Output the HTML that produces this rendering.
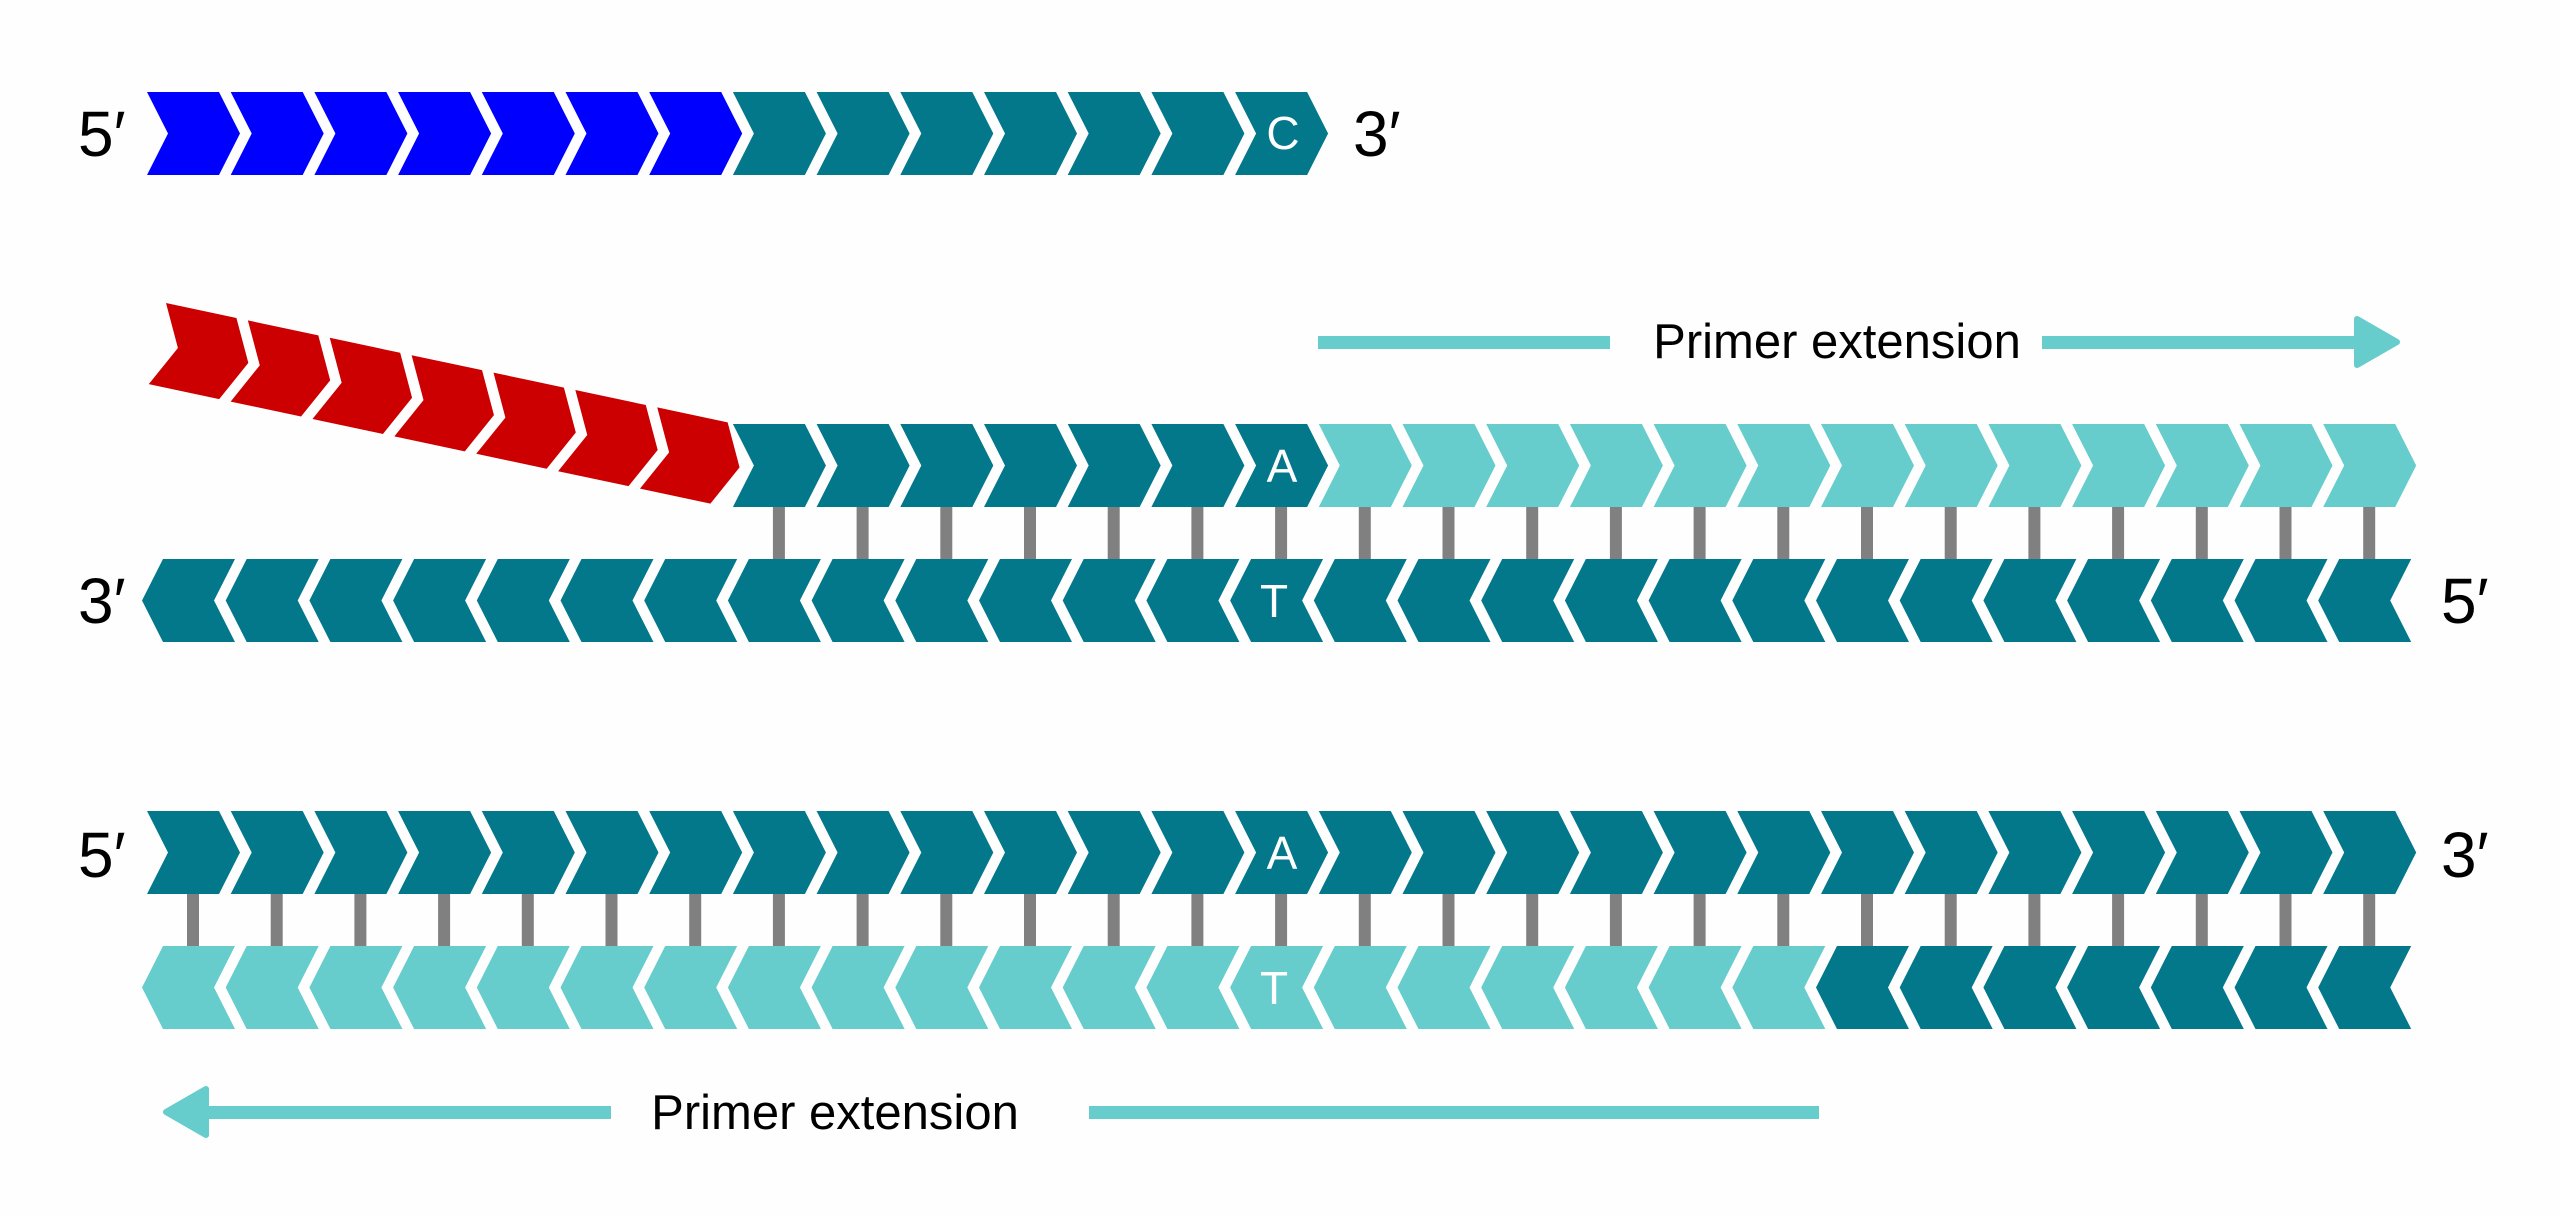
<!DOCTYPE html>
<html><head><meta charset="utf-8"><style>
html,body{margin:0;padding:0;background:#fefefe;}
svg{display:block;}
text{font-family:"Liberation Sans",sans-serif;}
</style></head><body>
<svg width="2560" height="1215" viewBox="0 0 2560 1215" xmlns="http://www.w3.org/2000/svg">
<defs>
<polygon id="R" points="0,0 72,0 93,41.5 72,83 0,83 21,41.5"/>
<polygon id="L" points="21,0 93,0 72,41.5 93,83 21,83 0,41.5"/>
<rect id="B" width="12" height="53"/>
</defs>
<rect width="2560" height="1215" fill="#fefefe"/>

<!-- Row 1 -->
<g fill="#0000ff">
<use href="#R" x="147" y="92"/><use href="#R" x="230.7" y="92"/><use href="#R" x="314.4" y="92"/><use href="#R" x="398.1" y="92"/><use href="#R" x="481.8" y="92"/><use href="#R" x="565.5" y="92"/><use href="#R" x="649.2" y="92"/>
</g>
<g fill="#02788a">
<use href="#R" x="732.9" y="92"/><use href="#R" x="816.6" y="92"/><use href="#R" x="900.3" y="92"/><use href="#R" x="984" y="92"/><use href="#R" x="1067.7" y="92"/><use href="#R" x="1151.4" y="92"/><use href="#R" x="1235.1" y="92"/>
</g>
<text x="1283" y="149" font-size="46" fill="#fff" text-anchor="middle">C</text>
<text x="78" y="156" font-size="64" fill="#000">5′</text>
<text x="1353" y="156" font-size="64" fill="#000">3′</text>

<!-- Red primer -->
<g fill="#cc0000" transform="translate(166,303) rotate(12)">
<use href="#R" x="0" y="0"/><use href="#R" x="83.7" y="0"/><use href="#R" x="167.4" y="0"/><use href="#R" x="251.1" y="0"/><use href="#R" x="334.8" y="0"/><use href="#R" x="418.5" y="0"/><use href="#R" x="502.2" y="0"/>
</g>

<!-- Arrows -->
<g fill="#66cccc">
<rect x="1318" y="336" width="292" height="13"/>
<rect x="2042" y="336" width="320" height="13"/>
<polygon points="2357,319 2397,342 2357,365" stroke="#66cccc" stroke-width="6" stroke-linejoin="round"/>
<rect x="206" y="1106" width="405" height="13"/>
<rect x="1089" y="1106" width="730" height="13"/>
<polygon points="206,1089 166,1112 206,1135" stroke="#66cccc" stroke-width="6" stroke-linejoin="round"/>
</g>
<text x="1837" y="358" font-size="49" fill="#000" text-anchor="middle">Primer extension</text>
<text x="835" y="1129" font-size="49" fill="#000" text-anchor="middle">Primer extension</text>

<!-- Bonds row 2-3 -->
<g fill="#808080">
<use href="#B" x="772.9" y="506"/><use href="#B" x="856.6" y="506"/><use href="#B" x="940.3" y="506"/><use href="#B" x="1024" y="506"/><use href="#B" x="1107.7" y="506"/><use href="#B" x="1191.4" y="506"/><use href="#B" x="1275.1" y="506"/><use href="#B" x="1358.8" y="506"/><use href="#B" x="1442.5" y="506"/><use href="#B" x="1526.2" y="506"/><use href="#B" x="1609.9" y="506"/><use href="#B" x="1693.6" y="506"/><use href="#B" x="1777.3" y="506"/><use href="#B" x="1861" y="506"/><use href="#B" x="1944.7" y="506"/><use href="#B" x="2028.4" y="506"/><use href="#B" x="2112.1" y="506"/><use href="#B" x="2195.8" y="506"/><use href="#B" x="2279.5" y="506"/><use href="#B" x="2363.2" y="506"/>
</g>
<!-- Row 2 -->
<g fill="#02788a">
<use href="#R" x="732.9" y="424"/><use href="#R" x="816.6" y="424"/><use href="#R" x="900.3" y="424"/><use href="#R" x="984" y="424"/><use href="#R" x="1067.7" y="424"/><use href="#R" x="1151.4" y="424"/><use href="#R" x="1235.1" y="424"/>
</g>
<g fill="#66cccc">
<use href="#R" x="1318.8" y="424"/><use href="#R" x="1402.5" y="424"/><use href="#R" x="1486.2" y="424"/><use href="#R" x="1569.9" y="424"/><use href="#R" x="1653.6" y="424"/><use href="#R" x="1737.3" y="424"/><use href="#R" x="1821" y="424"/><use href="#R" x="1904.7" y="424"/><use href="#R" x="1988.4" y="424"/><use href="#R" x="2072.1" y="424"/><use href="#R" x="2155.8" y="424"/><use href="#R" x="2239.5" y="424"/><use href="#R" x="2323.2" y="424"/>
</g>
<text x="1282" y="482" font-size="46" fill="#fff" text-anchor="middle">A</text>

<!-- Row 3 -->
<g fill="#02788a">
<use href="#L" x="142" y="559"/><use href="#L" x="225.7" y="559"/><use href="#L" x="309.4" y="559"/><use href="#L" x="393.1" y="559"/><use href="#L" x="476.8" y="559"/><use href="#L" x="560.5" y="559"/><use href="#L" x="644.2" y="559"/><use href="#L" x="727.9" y="559"/><use href="#L" x="811.6" y="559"/><use href="#L" x="895.3" y="559"/><use href="#L" x="979" y="559"/><use href="#L" x="1062.7" y="559"/><use href="#L" x="1146.4" y="559"/><use href="#L" x="1230.1" y="559"/><use href="#L" x="1313.8" y="559"/><use href="#L" x="1397.5" y="559"/><use href="#L" x="1481.2" y="559"/><use href="#L" x="1564.9" y="559"/><use href="#L" x="1648.6" y="559"/><use href="#L" x="1732.3" y="559"/><use href="#L" x="1816" y="559"/><use href="#L" x="1899.7" y="559"/><use href="#L" x="1983.4" y="559"/><use href="#L" x="2067.1" y="559"/><use href="#L" x="2150.8" y="559"/><use href="#L" x="2234.5" y="559"/><use href="#L" x="2318.2" y="559"/>
</g>
<text x="1274" y="617" font-size="46" fill="#fff" text-anchor="middle">T</text>
<text x="78" y="623" font-size="64" fill="#000">3′</text>
<text x="2441" y="623" font-size="64" fill="#000">5′</text>

<!-- Bonds row 4-5 -->
<g fill="#808080">
<use href="#B" x="187" y="893"/><use href="#B" x="270.7" y="893"/><use href="#B" x="354.4" y="893"/><use href="#B" x="438.1" y="893"/><use href="#B" x="521.8" y="893"/><use href="#B" x="605.5" y="893"/><use href="#B" x="689.2" y="893"/><use href="#B" x="772.9" y="893"/><use href="#B" x="856.6" y="893"/><use href="#B" x="940.3" y="893"/><use href="#B" x="1024" y="893"/><use href="#B" x="1107.7" y="893"/><use href="#B" x="1191.4" y="893"/><use href="#B" x="1275.1" y="893"/><use href="#B" x="1358.8" y="893"/><use href="#B" x="1442.5" y="893"/><use href="#B" x="1526.2" y="893"/><use href="#B" x="1609.9" y="893"/><use href="#B" x="1693.6" y="893"/><use href="#B" x="1777.3" y="893"/><use href="#B" x="1861" y="893"/><use href="#B" x="1944.7" y="893"/><use href="#B" x="2028.4" y="893"/><use href="#B" x="2112.1" y="893"/><use href="#B" x="2195.8" y="893"/><use href="#B" x="2279.5" y="893"/><use href="#B" x="2363.2" y="893"/>
</g>
<!-- Row 4 -->
<g fill="#02788a">
<use href="#R" x="147" y="811"/><use href="#R" x="230.7" y="811"/><use href="#R" x="314.4" y="811"/><use href="#R" x="398.1" y="811"/><use href="#R" x="481.8" y="811"/><use href="#R" x="565.5" y="811"/><use href="#R" x="649.2" y="811"/><use href="#R" x="732.9" y="811"/><use href="#R" x="816.6" y="811"/><use href="#R" x="900.3" y="811"/><use href="#R" x="984" y="811"/><use href="#R" x="1067.7" y="811"/><use href="#R" x="1151.4" y="811"/><use href="#R" x="1235.1" y="811"/><use href="#R" x="1318.8" y="811"/><use href="#R" x="1402.5" y="811"/><use href="#R" x="1486.2" y="811"/><use href="#R" x="1569.9" y="811"/><use href="#R" x="1653.6" y="811"/><use href="#R" x="1737.3" y="811"/><use href="#R" x="1821" y="811"/><use href="#R" x="1904.7" y="811"/><use href="#R" x="1988.4" y="811"/><use href="#R" x="2072.1" y="811"/><use href="#R" x="2155.8" y="811"/><use href="#R" x="2239.5" y="811"/><use href="#R" x="2323.2" y="811"/>
</g>
<text x="1282" y="869" font-size="46" fill="#fff" text-anchor="middle">A</text>
<text x="78" y="877" font-size="64" fill="#000">5′</text>
<text x="2441" y="877" font-size="64" fill="#000">3′</text>

<!-- Row 5 -->
<g fill="#66cccc">
<use href="#L" x="142" y="946"/><use href="#L" x="225.7" y="946"/><use href="#L" x="309.4" y="946"/><use href="#L" x="393.1" y="946"/><use href="#L" x="476.8" y="946"/><use href="#L" x="560.5" y="946"/><use href="#L" x="644.2" y="946"/><use href="#L" x="727.9" y="946"/><use href="#L" x="811.6" y="946"/><use href="#L" x="895.3" y="946"/><use href="#L" x="979" y="946"/><use href="#L" x="1062.7" y="946"/><use href="#L" x="1146.4" y="946"/><use href="#L" x="1230.1" y="946"/><use href="#L" x="1313.8" y="946"/><use href="#L" x="1397.5" y="946"/><use href="#L" x="1481.2" y="946"/><use href="#L" x="1564.9" y="946"/><use href="#L" x="1648.6" y="946"/><use href="#L" x="1732.3" y="946"/>
</g>
<g fill="#02788a">
<use href="#L" x="1816" y="946"/><use href="#L" x="1899.7" y="946"/><use href="#L" x="1983.4" y="946"/><use href="#L" x="2067.1" y="946"/><use href="#L" x="2150.8" y="946"/><use href="#L" x="2234.5" y="946"/><use href="#L" x="2318.2" y="946"/>
</g>
<text x="1274" y="1004" font-size="46" fill="#fff" text-anchor="middle">T</text>
</svg>
</body></html>
